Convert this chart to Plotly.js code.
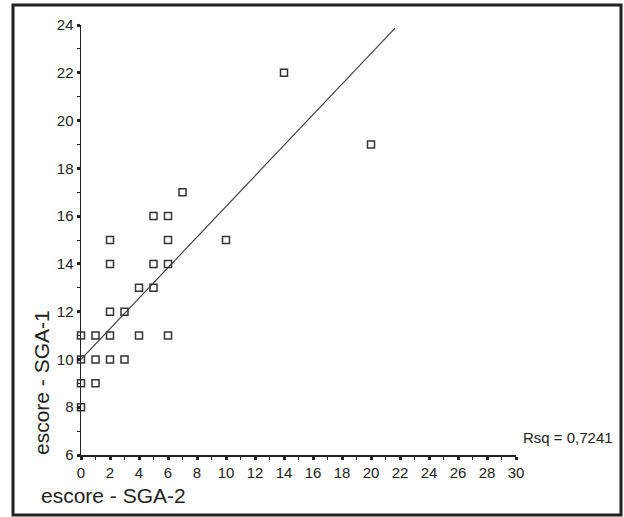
<!DOCTYPE html>
<html>
<head>
<meta charset="utf-8">
<script src="https://cdn.plot.ly/plotly-3.0.1.min.js"></script>
<style>
html,body{margin:0;padding:0;background:#fff;}
#chart{width:624px;height:517px;}
</style>
</head>
<body>
<div id="chart"></div>
<script>
// Data
var sga2 = [0, 0, 0, 0, 1, 1, 1, 2, 2, 2, 2, 2, 3, 3, 4, 4, 5, 5, 5, 6, 6, 6, 6, 7, 10, 14, 20];
var sga1 = [11, 10, 9, 8, 11, 10, 9, 15, 14, 12, 11, 10, 12, 10, 13, 11, 16, 14, 13, 16, 15, 14, 11, 17, 15, 22, 19];
var fitX = [0, 21.66];
var fitY = [10.0, 23.87];
var xTicks = [0, 2, 4, 6, 8, 10, 12, 14, 16, 18, 20, 22, 24, 26, 28, 30];
var yTicks = [6, 8, 10, 12, 14, 16, 18, 20, 22, 24];
var xTitle = "escore - SGA-2";
var yTitle = "escore - SGA-1";
var rsqText = "Rsq = 0,7241";

var FONT = "Liberation Sans, Arial, Helvetica, sans-serif";
var INK = "#222222";

var traces = [
  {
    x: fitX, y: fitY, type: "scatter", mode: "lines",
    line: {color: "#444444", width: 1.2},
    hoverinfo: "skip", showlegend: false
  },
  {
    x: sga2, y: sga1, type: "scatter", mode: "markers",
    marker: {symbol: "square-open", size: 7, color: "#333333", line: {width: 1.5, color: "#333333"}},
    showlegend: false, cliponaxis: false
  }
];

var axisCommon = {
  showgrid: false, zeroline: false, showline: true,
  linecolor: INK, linewidth: 1.5,
  ticks: "outside", ticklen: 3, tickwidth: 3, tickcolor: INK,
  tickfont: {family: FONT, size: 15, color: INK},
  minor: {dtick: 1, ticks: "outside", ticklen: 3, tickwidth: 1, tickcolor: INK},
  fixedrange: true
};

var layout = {
  width: 624, height: 517,
  margin: {l: 81, r: 108, t: 25, b: 62, pad: 0},
  paper_bgcolor: "#ffffff", plot_bgcolor: "#ffffff",
  showlegend: false,
  xaxis: Object.assign({}, axisCommon, {
    range: [0, 30], tickmode: "array", tickvals: xTicks, ticktext: xTicks.map(String)
  }),
  yaxis: Object.assign({}, axisCommon, {
    range: [6, 24], tickmode: "array", tickvals: yTicks, ticktext: yTicks.map(String)
  }),
  shapes: [
    {type: "rect", xref: "paper", yref: "paper",
     x0: (13 - 81) / 435, x1: (621 - 81) / 435,
     y0: (455 - 515) / 430, y1: (455 - 5) / 430,
     line: {color: "#222222", width: 3}, fillcolor: "rgba(0,0,0,0)", layer: "below"}
  ],
  annotations: [
    {text: xTitle, xref: "paper", yref: "paper", x: (39 - 81) / 435, y: (455 - 495) / 430,
     xanchor: "left", yanchor: "middle", showarrow: false,
     font: {family: FONT, size: 21, color: INK}},
    {text: yTitle, xref: "paper", yref: "paper", x: (41 - 81) / 435, y: (455 - 383) / 430,
     xanchor: "center", yanchor: "middle", textangle: -90, showarrow: false,
     font: {family: FONT, size: 21, color: INK}},
    {text: rsqText, xref: "paper", yref: "paper", x: (615 - 81) / 435, y: (455 - 437) / 430,
     xanchor: "right", yanchor: "middle", showarrow: false,
     font: {family: FONT, size: 15, color: INK}}
  ]
};

Plotly.newPlot("chart", traces, layout, {displayModeBar: false, staticPlot: true});
</script>
</body>
</html>
